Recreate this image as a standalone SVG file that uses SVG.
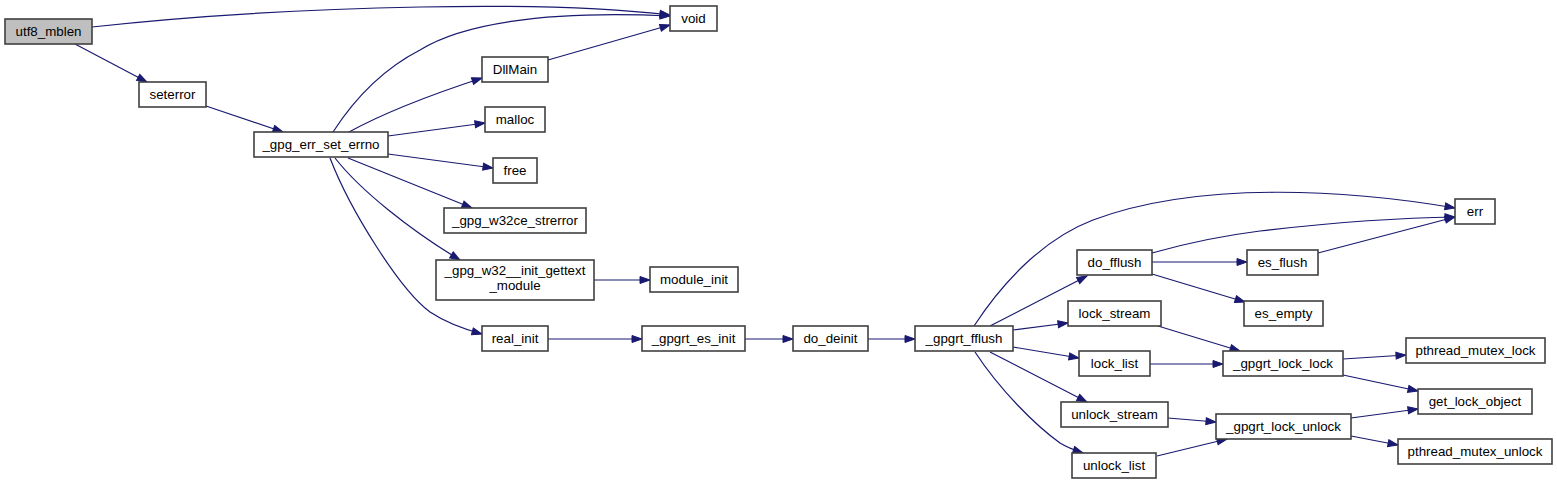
<svg xmlns="http://www.w3.org/2000/svg" width="1557" height="484" viewBox="0 0 1557 484">
<style>
.n rect{fill:#ffffff;stroke:#404040;stroke-width:1.6}
.n.root rect{fill:#bfbfbf}
.n text{font-family:"Liberation Sans",Arial,sans-serif;font-size:13.33px;fill:#000;text-anchor:middle}
.e path{fill:none;stroke:#191970;stroke-width:1.2;marker-end:url(#ah)}
</style>
<defs>
<marker id="ah" markerUnits="userSpaceOnUse" markerWidth="11" markerHeight="8" refX="10" refY="3.5" orient="auto" overflow="visible">
<path d="M0,0 L10,3.5 L0,7 Z" fill="#191970" stroke="#191970" stroke-width="1"/>
</marker>
</defs>
<rect width="1557" height="484" fill="#ffffff"/>
<g id="connectors" class="e">
<path d="M92,27 C200,15 320,9 420,7 C520,5 610,8 670,15"/>
<path d="M75,44 L147,82"/>
<path d="M206,106 L283,132"/>
<path d="M333,132 C355,98 385,68 420,50 C460,25 540,10 670,16"/>
<path d="M548,60 L670,25"/>
<path d="M349,132 C380,115 430,95 482,78"/>
<path d="M388,136 L485,123"/>
<path d="M388,154 L493,168"/>
<path d="M348,158 L472,208"/>
<path d="M335,158 C360,190 410,230 460,260"/>
<path d="M330,158 C350,210 400,290 430,312 C445,322 460,328 482,334"/>
<path d="M594,280 L650,280"/>
<path d="M548,339 L642,339"/>
<path d="M745,339 L793,339"/>
<path d="M868,339 L915,339"/>
<path d="M974,326 C1002,283 1043,239 1093,220 C1200,180 1350,190 1455,208"/>
<path d="M1152,253 C1180,245 1220,236 1260,231 C1320,224 1390,218 1455,217"/>
<path d="M1318,253 L1455,217"/>
<path d="M1152,262 L1247,262"/>
<path d="M1152,274 L1245,302"/>
<path d="M990,326 L1087,276"/>
<path d="M1013,330 L1068,323"/>
<path d="M1013,347 L1079,358"/>
<path d="M990,352 L1087,402"/>
<path d="M975,352 C1000,390 1035,425 1060,443 C1068,448 1074,450 1083,453"/>
<path d="M1158,326 L1240,351"/>
<path d="M1150,364 L1223,364"/>
<path d="M1168,418 L1216,422"/>
<path d="M1157,456 L1227,439"/>
<path d="M1343,359 L1406,355"/>
<path d="M1343,375 L1418,391"/>
<path d="M1351,418 L1418,409"/>
<path d="M1351,436 L1398,445"/>
</g>
<g id="utf8_mblen" class="n root"><rect x="5" y="19" width="87" height="25"/><text x="48.5" y="36">utf8_mblen</text></g>
<g id="void" class="n"><rect x="670" y="6" width="47" height="25"/><text x="693.5" y="23">void</text></g>
<g id="seterror" class="n"><rect x="139" y="82" width="67" height="25"/><text x="172.5" y="99">seterror</text></g>
<g id="gpg_err_set_errno" class="n"><rect x="254" y="132" width="134" height="25"/><text x="321" y="149">_gpg_err_set_errno</text></g>
<g id="DllMain" class="n"><rect x="482" y="57" width="66" height="25"/><text x="515" y="74">DllMain</text></g>
<g id="malloc" class="n"><rect x="485" y="107" width="60" height="25"/><text x="515" y="124">malloc</text></g>
<g id="free" class="n"><rect x="493" y="158" width="44" height="25"/><text x="515" y="175">free</text></g>
<g id="gpg_w32ce_strerror" class="n"><rect x="444" y="208" width="142" height="25"/><text x="515" y="225">_gpg_w32ce_strerror</text></g>
<g id="gpg_w32_init_gettext_module" class="n"><rect x="436" y="260" width="158" height="40"/><text x="515" y="275">_gpg_w32__init_gettext</text><text x="515" y="290">_module</text></g>
<g id="module_init" class="n"><rect x="650" y="267" width="88" height="25"/><text x="694" y="284">module_init</text></g>
<g id="real_init" class="n"><rect x="482" y="326" width="66" height="25"/><text x="515" y="343">real_init</text></g>
<g id="gpgrt_es_init" class="n"><rect x="642" y="326" width="103" height="25"/><text x="693.5" y="343">_gpgrt_es_init</text></g>
<g id="do_deinit" class="n"><rect x="793" y="326" width="75" height="25"/><text x="830.5" y="343">do_deinit</text></g>
<g id="gpgrt_fflush" class="n"><rect x="915" y="326" width="98" height="25"/><text x="964" y="343">_gpgrt_fflush</text></g>
<g id="do_fflush" class="n"><rect x="1077" y="250" width="75" height="25"/><text x="1114.5" y="267">do_fflush</text></g>
<g id="lock_stream" class="n"><rect x="1068" y="301" width="93" height="25"/><text x="1114.5" y="318">lock_stream</text></g>
<g id="lock_list" class="n"><rect x="1079" y="351" width="71" height="25"/><text x="1114.5" y="368">lock_list</text></g>
<g id="unlock_stream" class="n"><rect x="1061" y="402" width="107" height="25"/><text x="1114.5" y="419">unlock_stream</text></g>
<g id="unlock_list" class="n"><rect x="1072" y="453" width="84" height="25"/><text x="1114" y="470">unlock_list</text></g>
<g id="es_flush" class="n"><rect x="1247" y="250" width="71" height="25"/><text x="1282.5" y="267">es_flush</text></g>
<g id="es_empty" class="n"><rect x="1244" y="301" width="79" height="25"/><text x="1283.5" y="318">es_empty</text></g>
<g id="gpgrt_lock_lock" class="n"><rect x="1223" y="351" width="120" height="25"/><text x="1283" y="368">_gpgrt_lock_lock</text></g>
<g id="gpgrt_lock_unlock" class="n"><rect x="1216" y="414" width="135" height="25"/><text x="1283.5" y="431">_gpgrt_lock_unlock</text></g>
<g id="err" class="n"><rect x="1455" y="199" width="40" height="25"/><text x="1475" y="216">err</text></g>
<g id="pthread_mutex_lock" class="n"><rect x="1406" y="338" width="139" height="25"/><text x="1475.5" y="355">pthread_mutex_lock</text></g>
<g id="get_lock_object" class="n"><rect x="1418" y="389" width="114" height="25"/><text x="1475" y="406">get_lock_object</text></g>
<g id="pthread_mutex_unlock" class="n"><rect x="1398" y="439" width="154" height="25"/><text x="1475" y="456">pthread_mutex_unlock</text></g>
</svg>
